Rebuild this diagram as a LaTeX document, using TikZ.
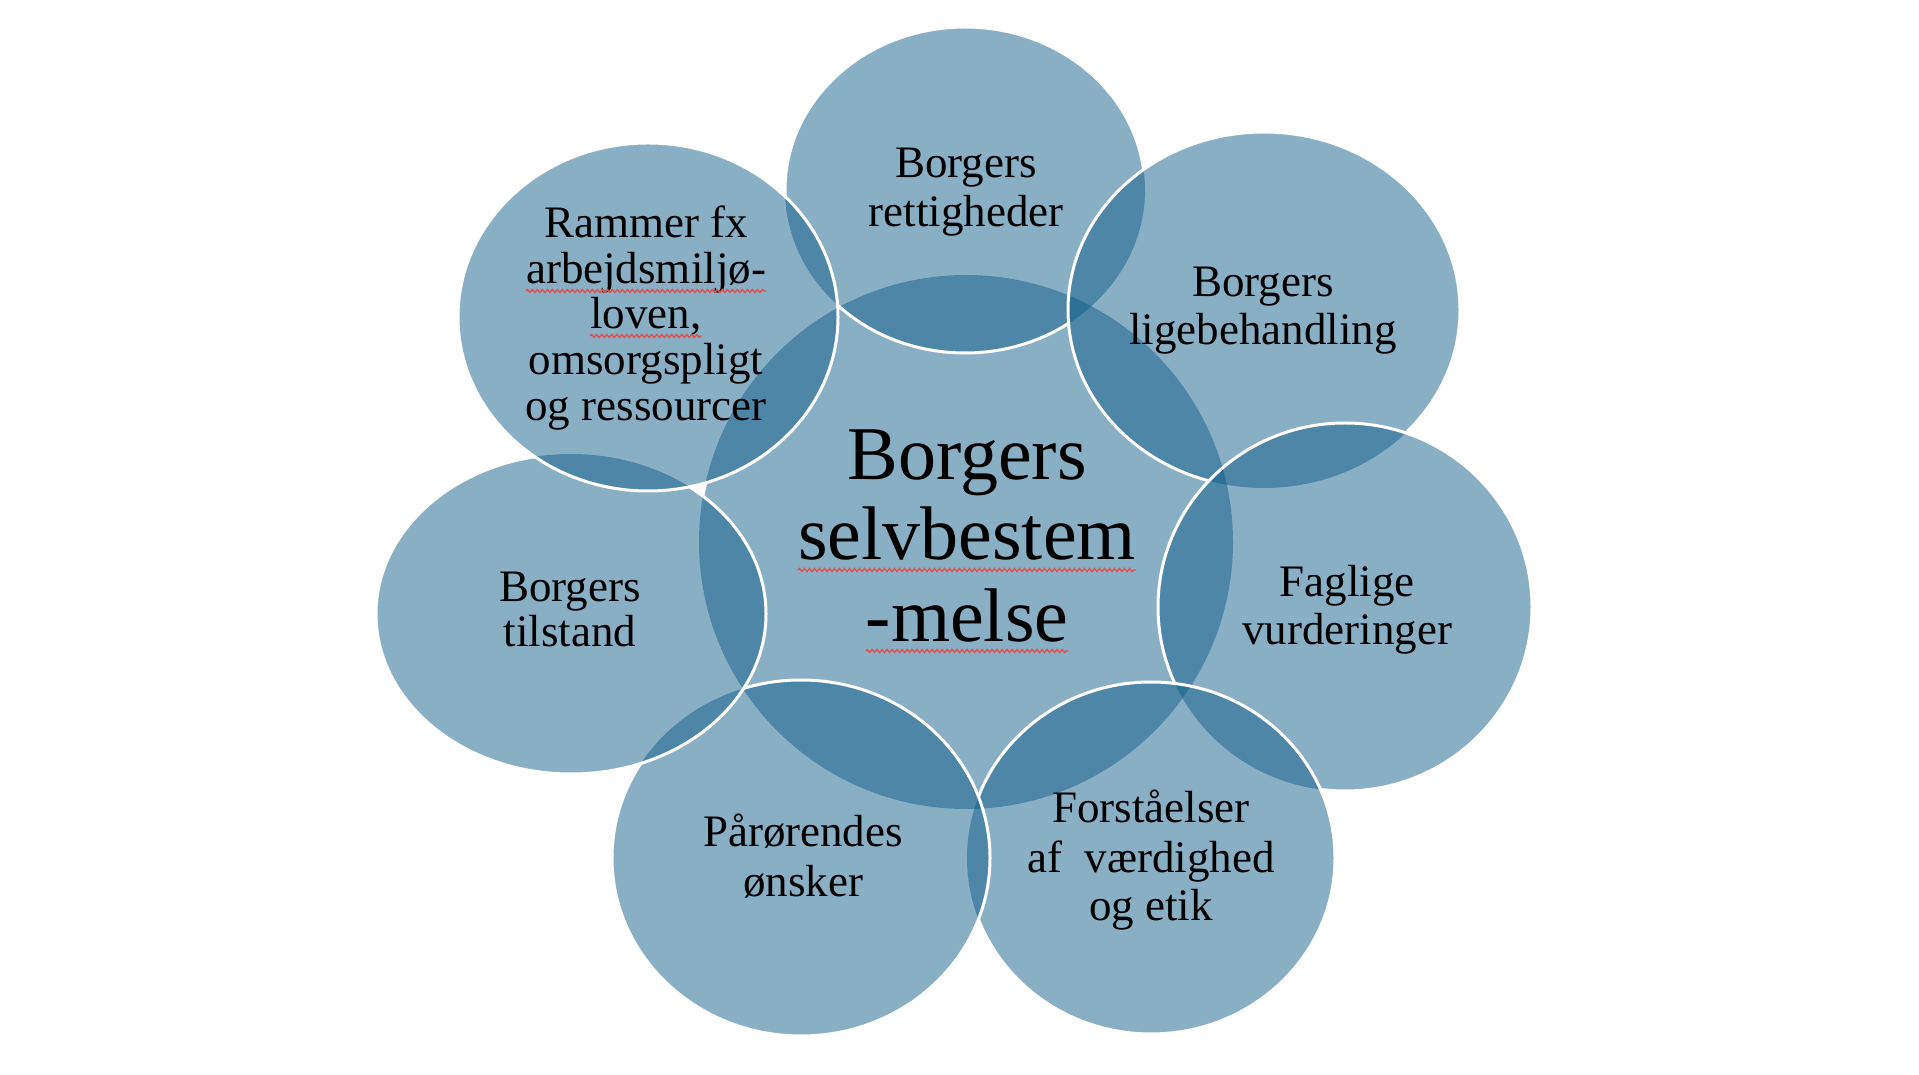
\documentclass[tikz,border=0pt]{standalone}
\usepackage{fontspec}
\setmainfont{Liberation Serif}
\usetikzlibrary{decorations.pathmorphing}
\definecolor{discblue}{RGB}{16,92,135}
\definecolor{spellred}{RGB}{225,80,80}
% clip away the inside of one ellipse (nonzero rule: rectangle ccw, ellipse cw)
\newcommand\holeclip[4]{\clip (-10,-10) -- (1930,-10) -- (1930,1084) -- (-10,1084) -- cycle (#1+#3,#2) arc[start angle=0,end angle=-360,x radius=#3,y radius=#4];}
\begin{document}
\begin{tikzpicture}[x=1pt,y=1pt,
  disc/.style={fill=discblue, fill opacity=0.49},
  rim/.style={draw=white, line width=3pt},
  small/.style={font=\fontsize{45}{54}\selectfont, anchor=base, inner sep=0pt, text=black},
  big/.style={font=\fontsize{76}{90}\selectfont, anchor=base, inner sep=0pt, text=black},
  spell/.style={draw=spellred, line width=1.4pt, decorate, decoration={snake, amplitude=1.5pt, segment length=5pt}}]
\fill[white] (0,0) rectangle (1919,1074);
\useasboundingbox (0,0) rectangle (1919,1074);
% fills
\fill[disc] (966,532) ellipse[x radius=267, y radius=267];   % centre
\fill[disc] (965,884) ellipse[x radius=180, y radius=163];   % top
\fill[disc] (1264,764) ellipse[x radius=196, y radius=178];  % top right
\fill[disc] (1345,467) ellipse[x radius=187, y radius=184];  % right
\fill[disc] (1151,216) ellipse[x radius=184, y radius=176];  % bottom right
\fill[disc] (801,216) ellipse[x radius=189, y radius=178];   % bottom left
\fill[disc] (571,460) ellipse[x radius=195, y radius=160];   % left
\fill[disc] (648,757) ellipse[x radius=190, y radius=174];   % top left
% white rims, each hidden under the circles drawn after it
\begin{scope}
\holeclip{965}{884}{180}{163}\holeclip{1264}{764}{196}{178}\holeclip{1345}{467}{187}{184}
\holeclip{1151}{216}{184}{176}\holeclip{801}{216}{189}{178}\holeclip{571}{460}{195}{160}\holeclip{648}{757}{190}{174}
\draw[rim] (966,532) ellipse[x radius=267, y radius=267];
\end{scope}
\begin{scope}
\holeclip{1264}{764}{196}{178}\holeclip{1345}{467}{187}{184}
\holeclip{1151}{216}{184}{176}\holeclip{801}{216}{189}{178}\holeclip{571}{460}{195}{160}\holeclip{648}{757}{190}{174}
\draw[rim] (965,884) ellipse[x radius=180, y radius=163];
\end{scope}
\begin{scope}
\holeclip{1345}{467}{187}{184}
\holeclip{1151}{216}{184}{176}\holeclip{801}{216}{189}{178}\holeclip{571}{460}{195}{160}\holeclip{648}{757}{190}{174}
\draw[rim] (1264,764) ellipse[x radius=196, y radius=178];
\end{scope}
\begin{scope}
\holeclip{1151}{216}{184}{176}\holeclip{801}{216}{189}{178}\holeclip{571}{460}{195}{160}\holeclip{648}{757}{190}{174}
\draw[rim] (1345,467) ellipse[x radius=187, y radius=184];
\end{scope}
\begin{scope}
\holeclip{801}{216}{189}{178}\holeclip{571}{460}{195}{160}\holeclip{648}{757}{190}{174}
\draw[rim] (1151,216) ellipse[x radius=184, y radius=176];
\end{scope}
\begin{scope}
\holeclip{571}{460}{195}{160}\holeclip{648}{757}{190}{174}
\draw[rim] (801,216) ellipse[x radius=189, y radius=178];
\end{scope}
\begin{scope}
\holeclip{648}{757}{190}{174}
\draw[rim] (571,460) ellipse[x radius=195, y radius=160];
\end{scope}
\draw[rim] (648,757) ellipse[x radius=190, y radius=174];
% texts
\node[small] (t1) at (966,896) {Borgers};
\node[small] (t2) at (966,847) {rettigheder};
\node[small] (tr1) at (1263,777) {Borgers};
\node[small] (tr2) at (1263,729) {ligebehandling};
\node[small] (r1) at (1347,477) {Faglige};
\node[small] (r2) at (1347,429) {vurderinger};
\node[small] (br1) at (1151,251) {Forståelser};
\node[small] (br2) at (1151,202) {af\ \ værdighed};
\node[small] (br3) at (1151,154) {og etik};
\node[small] (bl1) at (803,227) {Pårørendes};
\node[small] (bl2) at (803,178) {ønsker};
\node[small] (l1) at (570,472) {Borgers};
\node[small] (l2) at (570,427) {tilstand};
\node[small] (tl1) at (646,836) {Rammer fx};
\node[small] (tl2) at (646,790) {arbejdsmiljø-};
\node[small] (tl3) at (646,745) {loven,};
\node[small] (tl4) at (646,699) {omsorgspligt};
\node[small] (tl5) at (646,653) {og ressourcer};
\node[big] (c1) at (967,594) {Borgers};
\node[big] (c2) at (967,514) {selvbestem};
\node[big] (c3) at (967,432) {-melse};
% spell-check squiggles
\draw[spell] ([yshift=-7pt]tl2.base west) -- ([yshift=-7pt]tl2.base east);
\draw[spell] ([yshift=-7pt]tl3.base west) -- ([yshift=-7pt]tl3.base east);
\draw[spell] ([yshift=-10pt]c2.base west) -- ([yshift=-10pt]c2.base east);
\draw[spell] ([yshift=-9pt]c3.base west) -- ([yshift=-9pt]c3.base east);
\end{tikzpicture}
\end{document}
